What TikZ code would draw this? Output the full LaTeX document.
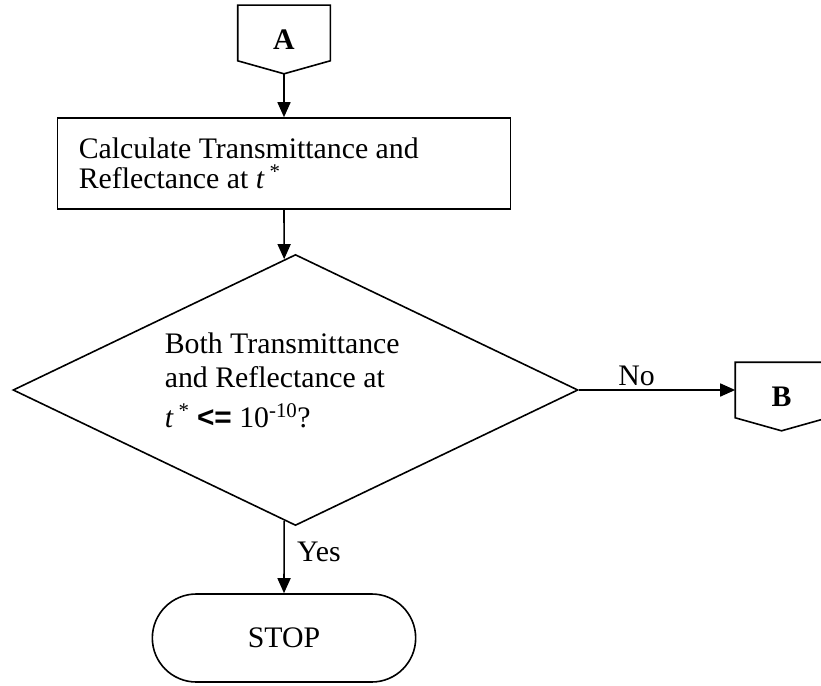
\documentclass[tikz,border=0pt]{standalone}
\usepackage{fontspec}
\setmainfont{Liberation Serif}
\newfontfamily\arialfont{Liberation Sans}
\usetikzlibrary{shapes.geometric,shapes.misc,arrows.meta,calc}

\tikzset{
  every node/.style={font=\fontsize{29.8}{30}\selectfont},
  arr/.style={-{Triangle[length=15pt,width=13pt]}},
  procbox/.style={draw,rectangle,minimum width=453pt,minimum height=91pt},
  decbox/.style={draw,diamond,minimum width=565pt,minimum height=271pt,inner sep=0pt},
  termbox/.style={draw,rounded rectangle,minimum width=270pt,minimum height=88pt},
  offpage/.style={minimum width=91pt,minimum height=67pt,inner sep=0pt,
    font=\fontsize{29.8}{30}\selectfont\bfseries},
}

\begin{document}
\begin{tikzpicture}[x=1pt,y=-1pt,line width=1.6pt]
\useasboundingbox (0,0) rectangle (821,685);
\clip (0,0) rectangle (821,685);

% connectors
\node[offpage] (A) at (284,39.5) {A};
\node[offpage] (B) at (781.5,396.5) {B};
\foreach \n in {A,B}
  \draw (\n.north west) -- (\n.north east) -- ([yshift=13pt]\n.south east)
    -- (\n.south) -- ([yshift=13pt]\n.south west) -- cycle;

% process box
\node[procbox] (calc) at (284,163.5) {};
\node[anchor=base west,align=left,inner sep=0pt] (calctext) at (78,188)
  {Calculate Transmittance and\\Reflectance at \textit{t}\,\textsuperscript{*}};

% decision
\node[decbox] (dec) at (295.5,390) {};
\node[anchor=base west,align=left,inner sep=0pt,font=\fontsize{29.8}{34}\selectfont] (dectext) at (164,427)
  {Both Transmittance\\and Reflectance at\\[6pt]
   \textit{t}\,\textsuperscript{*} {\arialfont\bfseries <=} 10\textsuperscript{-10}?};

% stop
\node[termbox] (stop) at (284,638) {STOP};

% flow lines
\draw[arr] (A.south) -- (calc.north);
\draw[arr] (calc.south) -- ($(dec.north)!0.04!(dec.west)$);
\draw[arr] ($(dec.south)!0.04!(dec.west)$) -- node[right=9pt,pos=0.43] (yes) {Yes} (stop.north);
\draw[arr] (dec.east) -- node[above,pos=0.37] (no) {No} (dec.east -| B.west);
\end{tikzpicture}
\end{document}
